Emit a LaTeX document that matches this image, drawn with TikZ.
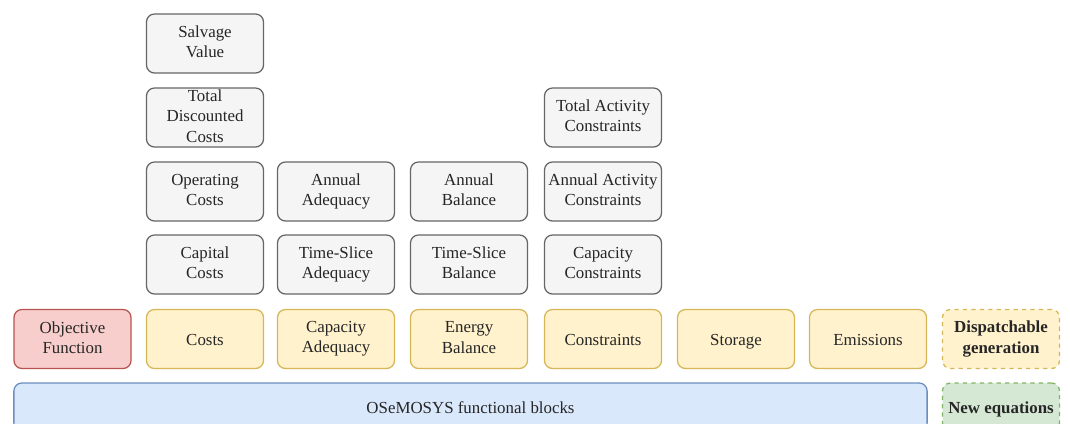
\documentclass[tikz,border=0pt]{standalone}
\usepackage{fontspec}
\setmainfont{Liberation Serif}
\definecolor{objfill}{HTML}{F8CECC}
\definecolor{objline}{HTML}{B85450}
\definecolor{blkfill}{HTML}{FFF2CC}
\definecolor{blkline}{HTML}{D6B656}
\definecolor{subfill}{HTML}{F5F5F5}
\definecolor{subline}{HTML}{666666}
\definecolor{basefill}{HTML}{DAE8FC}
\definecolor{baseline}{HTML}{6C8EBF}
\definecolor{newfill}{HTML}{D5E8D4}
\definecolor{newline}{HTML}{82B366}
\begin{document}
\begin{tikzpicture}[x=0.025cm, y=-0.025cm,
  box/.style={draw, rectangle, rounded corners=0.2cm, line width=0.9pt, align=center,
    minimum width=2.925cm, minimum height=1.475cm, inner sep=1pt, text=black!85,
    font=\fontsize{12}{14.5}\selectfont,
    execute at begin node=\rule{0pt}{11.9pt},
    execute at end node=\rule[-2.3pt]{0pt}{2.3pt}},
  sub/.style={box, fill=subfill, draw=subline},
  blk/.style={box, fill=blkfill, draw=blkline},
  newblk/.style={box, dashed, font=\fontsize{12}{14.5}\selectfont\bfseries}]
\useasboundingbox (0,0) rectangle (1070,423);
% sub-blocks
\node[sub] (sv) at (205,43.5) {Salvage\\Value};
\node[sub] (tdc) at (205,117.5) {Total\\Discounted\\Costs};
\node[sub] (oc) at (205,191.5) {Operating\\Costs};
\node[sub] (cc) at (205,264.5) {Capital\\Costs};
\node[sub] (aa) at (336,191.5) {Annual\\Adequacy};
\node[sub] (tsa) at (336,264.5) {Time-Slice\\Adequacy};
\node[sub] (ab) at (469,191.5) {Annual\\Balance};
\node[sub] (tsb) at (469,264.5) {Time-Slice\\Balance};
\node[sub] (tac) at (603,117.5) {Total Activity\\Constraints};
\node[sub] (aac) at (603,191.5) {Annual Activity\\Constraints};
\node[sub] (cpc) at (603,264.5) {Capacity\\Constraints};
% functional blocks
\node[box, fill=objfill, draw=objline] (of) at (72.5,339) {Objective\\Function};
\node[blk] (costs) at (205,339) {Costs};
\node[blk] (ca) at (336,339) {Capacity\\Adequacy};
\node[blk] (eb) at (469,339) {Energy\\Balance};
\node[blk] (cons) at (603,339) {Constraints};
\node[blk] (stor) at (736,339) {Storage};
\node[blk] (emis) at (868,339) {Emissions};
\node[newblk, fill=blkfill, draw=blkline] (disp) at (1001,339) {Dispatchable\\generation};
% base row
\node[box, fill=basefill, draw=baseline, minimum width=22.825cm, minimum height=1.2cm] (osm) at (470.5,407) {OSeMOSYS functional blocks};
\node[newblk, fill=newfill, draw=newline, minimum height=1.2cm] (neq) at (1001,407) {New equations};
\end{tikzpicture}
\end{document}
